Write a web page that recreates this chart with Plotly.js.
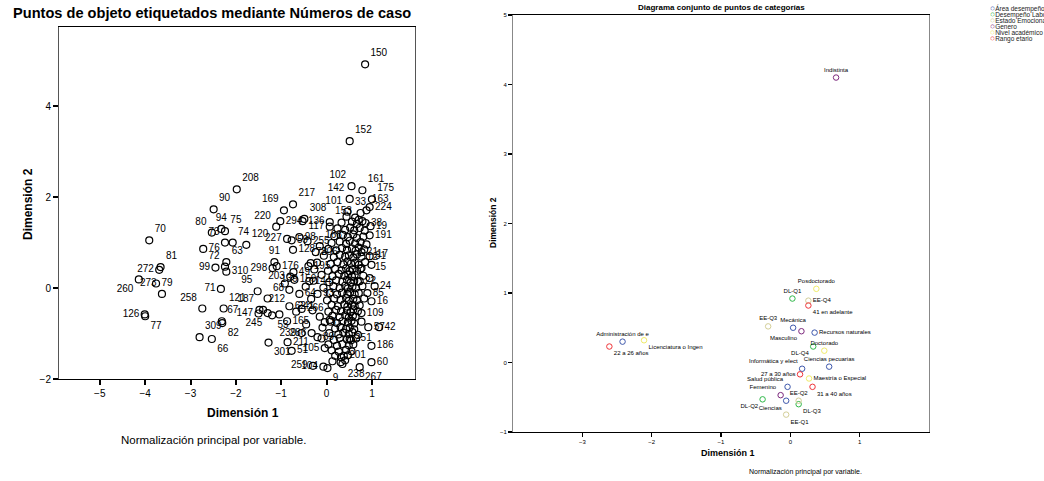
<!DOCTYPE html>
<html><head><meta charset="utf-8">
<script src="https://cdn.plot.ly/plotly-3.0.1.min.js"></script>
<style>html,body{margin:0;padding:0;background:#fff}#chart{width:1044px;height:481px}</style>
</head><body><div id="chart"></div>
<script>
// ---------- Left plot: object points labelled by case number ----------
const caseLabels = ['150','152','208','102','161','175','142','217','90','169','308','101','163','224','33',
 '80','94','75','220','294','136','153','38','19','70','73','74','120','227','59','98','255','117','191',
 '76','72','63','128','206','168','21','31','81','272','91','78','12','17','99','298','176','49','195',
 '203','159','144','310','15','24','22','273','79','71','95','139','64','93','85','16','260','258','121',
 '187','212','68','62','266','126','77','147','67','309','82','66','245','53','165','241','3','57','42',
 '109','239','286','89','251','301','211','51','105','186','201','60','259','104','9','238','267'];
const caseDim1 = [0.85,0.51,-1.98,0.55,0.79,1.00,0.51,-0.74,-2.49,-0.94,-0.49,0.46,0.88,0.95,0.75,
 -2.53,-2.32,-2.24,-1.11,-1.02,-0.53,0.07,0.86,0.97,-3.91,-2.24,-2.07,-1.77,-0.87,-0.77,-0.60,-0.42,0.07,0.95,
 -2.72,-2.24,-2.21,-0.74,-0.24,-0.15,0.77,0.95,-3.66,-3.69,-1.15,-0.35,0.77,0.99,-2.45,-1.19,-1.10,-0.73,-0.40,
 -0.80,-0.71,-0.38,-2.21,0.95,1.06,0.73,-3.63,-3.76,-2.33,-1.52,-0.82,-0.60,-0.20,0.90,0.99,-4.14,-2.74,-2.27,
 -1.48,-1.40,-1.30,-0.82,-0.55,-4.01,-4.00,-1.50,-2.31,-2.80,-2.30,-2.53,-1.30,-1.20,-0.87,-0.15,-0.04,0.92,1.16,
 0.77,-0.55,-0.33,-0.20,0.51,-1.28,-0.86,-0.77,-0.04,0.99,0.38,0.99,-0.30,-0.07,0.02,0.35,0.73];
const caseDim2 = [4.92,3.23,2.17,2.24,2.15,1.95,1.96,1.84,1.73,1.71,1.52,1.68,1.71,1.78,1.65,
 1.22,1.30,1.25,1.35,1.47,1.47,1.45,1.43,1.36,1.05,1.00,1.00,0.95,1.08,1.05,1.12,1.03,1.35,1.16,
 0.86,0.47,0.57,0.84,0.79,0.92,0.79,0.70,0.46,0.40,0.57,0.55,0.44,0.51,0.45,0.44,0.48,0.35,0.48,
 0.25,0.18,0.15,0.36,0.22,0.04,0.15,-0.13,0.10,-0.02,-0.07,-0.04,-0.13,-0.13,-0.11,-0.29,0.19,-0.45,-0.45,
 -0.48,-0.48,-0.23,-0.40,-0.46,-0.58,-0.62,-0.56,-0.73,-1.08,-0.77,-1.12,-0.55,-0.60,-0.73,-0.63,-0.75,-0.86,-0.86,
 -0.55,-0.99,-0.99,-1.08,-1.12,-1.20,-1.19,-1.38,-1.32,-1.27,-1.49,-1.63,-1.71,-1.73,-1.76,-1.67,-1.74];
// unlabelled (overplotted) object points in the dense cluster
const otherDim1 = [0.44,0.63,0.71,0.33,0.56,0.67,0.79,0.24,0.41,0.52,0.61,0.73,0.84,0.17,0.36,0.47,0.59,0.67,0.81,
 0.11,0.29,0.43,0.51,0.63,0.75,0.88,0.04,0.21,0.34,0.45,0.56,0.64,0.71,0.83,-0.06,0.16,0.29,0.41,0.49,0.59,0.67,0.77,
 -0.21,0.09,0.24,0.37,0.46,0.54,0.63,0.71,0.85,-0.27,0.03,0.19,0.33,0.43,0.51,0.57,0.67,0.75,
 -0.11,0.13,0.27,0.39,0.48,0.56,0.62,0.81,-0.29,0.06,0.21,0.35,0.45,0.53,0.61,0.69,
 -0.46,-0.07,0.15,0.29,0.41,0.47,0.57,0.65,0.79,0.07,0.23,0.34,0.46,0.52,0.62,0.71,
 -0.34,0.01,0.17,0.31,0.43,0.49,0.59,0.67,0.83,0.11,0.25,0.39,0.46,0.56,0.62,0.73,
 -0.31,0.04,0.21,0.32,0.45,0.53,0.59,0.69,0.13,0.29,0.41,0.49,0.58,0.64,
 0.09,0.23,0.35,0.47,0.55,0.61,0.77,-0.09,0.19,0.31,0.43,0.51,0.61,0.06,0.26,0.37,0.49,0.57,0.69,
 -0.11,0.16,0.29,0.45,0.54,0.65,0.04,0.23,0.35,0.49,0.59,0.11,0.27,0.43,0.55,0.19,0.32,0.47,0.13,0.31,0.41,
 -1.04,-0.67,0.07,-0.92,-0.45];
const otherDim2 = [1.57,1.55,1.50,1.44,1.46,1.41,1.47,1.31,1.28,1.33,1.27,1.32,1.26,1.14,1.17,1.12,1.18,1.10,1.13,
 0.99,1.02,0.97,1.04,0.98,1.01,0.96,0.86,0.83,0.88,0.84,0.87,0.82,0.89,0.85,0.71,0.68,0.73,0.69,0.72,0.67,0.74,0.69,
 0.56,0.53,0.57,0.52,0.58,0.54,0.56,0.51,0.57,0.41,0.38,0.42,0.39,0.43,0.37,0.41,0.38,0.42,
 0.29,0.26,0.31,0.27,0.30,0.25,0.29,0.27,0.16,0.13,0.17,0.14,0.18,0.12,0.16,0.14,
 0.03,0.01,0.04,0.00,0.05,-0.01,0.03,0.00,0.04,-0.11,-0.14,-0.10,-0.13,-0.09,-0.14,-0.11,
 -0.24,-0.27,-0.23,-0.26,-0.22,-0.28,-0.24,-0.27,-0.23,-0.37,-0.40,-0.36,-0.41,-0.37,-0.40,-0.38,
 -0.49,-0.52,-0.48,-0.51,-0.49,-0.53,-0.47,-0.51,-0.61,-0.64,-0.60,-0.65,-0.61,-0.63,
 -0.74,-0.77,-0.73,-0.76,-0.72,-0.78,-0.74,-0.87,-0.89,-0.86,-0.90,-0.87,-0.91,-0.99,-1.02,-0.98,-1.01,-0.97,-1.03,
 -1.11,-1.14,-1.10,-1.13,-1.15,-1.11,-1.24,-1.27,-1.23,-1.26,-1.24,-1.37,-1.40,-1.36,-1.39,-1.49,-1.52,-1.48,-1.61,-1.63,-1.59,
 -0.58,-0.52,-0.70,0.10,-0.80];
// label placement code per labelled case (TR = top right, ML = middle left, ...)
const caseLabelPos = ['TR','TR','TR','TL','TR','TR','TL','TR','TR','TL','TR','TL','TR','MR','TC',
 'TL','TC','TR','TL','MR','MR','TR','MR','MR','TR','TL','TR','TR','ML','MR','MR','MR','ML','MR',
 'MR','TL','TR','MR','MR','TR','MR','MR','TR','ML','TC','TR','TR','TR','ML','ML','MR','MR','MR',
 'ML','MR','MR','MR','TR','MR','MR','TL','MR','ML','TL','TC','MR','MR','MR','MR','BL','TL','TR',
 'TL','TR','TR','MR','MR','ML','BR','ML','TR','TR','BR','BR','BL','BR','MR','TL','MR','MR','MR',
 'MR','ML','ML','MR','MR','BR','MR','MR','ML','MR','MR','MR','ML','ML','BR','BR','BR'];
const xTicksLeft = [-5,-4,-3,-2,-1,0,1];
const yTicksLeft = [-2,0,2,4];

// ---------- Right plot: joint plot of category points ----------
const variables = ['Área desempeño','Desempeño Laboral','Estado Emocional','Genero','Nivel académico','Rango etario'];
const areaCats = ['Administración de e','Mecánica','Recursos naturales','Informática y elect','Ciencias pecuarias','Salud pública','Ciencias'];
const areaDim1 = [-2.42,0.04,0.35,0.17,0.56,-0.04,-0.06];
const areaDim2 = [0.30,0.50,0.43,-0.09,-0.06,-0.35,-0.55];
const dlCats = ['DL-Q1','DL-Q2','DL-Q3','DL-Q4'];
const dlDim1 = [0.03,-0.40,0.12,0.33];
const dlDim2 = [0.92,-0.53,-0.60,0.23];
const eeCats = ['EE-Q1','EE-Q2','EE-Q3','EE-Q4'];
const eeDim1 = [-0.06,0.12,-0.32,0.26];
const eeDim2 = [-0.75,-0.55,0.52,0.89];
const genCats = ['Masculino','Femenino','Indistinta'];
const genDim1 = [0.16,-0.14,0.66];
const genDim2 = [0.45,-0.47,4.10];
const nivCats = ['Licenciatura o Ingen','Maestría o Especial','Doctorado','Posdoctorado'];
const nivDim1 = [-2.11,0.27,0.49,0.375];
const nivDim2 = [0.32,-0.23,0.17,1.06];
const edadCats = ['22 a 26 años','27 a 30 años','31 a 40 años','41 en adelante'];
const edadDim1 = [-2.61,0.14,0.32,0.26];
const edadDim2 = [0.23,-0.17,-0.35,0.82];
const xTicksRight = [-3,-2,-1,0,1];
const yTicksRight = [-1,0,1,2,3,4,5];

// ---------- styles ----------
const FONT = 'Liberation Sans, Arial, sans-serif';
const posMap = {TR:'top right',TL:'top left',TC:'top center',MR:'middle right',ML:'middle left',
  BR:'bottom right',BL:'bottom left',BC:'bottom center'};
const varColors = ['#3E58AC','#2EB848','#D3CE97','#7C287D','#F0EC6A','#EF3338'];
const rightSets = [
  [areaCats,areaDim1,areaDim2,['TC','TC','MR','TL','TC','TL','BL']],
  [dlCats,dlDim1,dlDim2,['TC','BL','BR','BL']],
  [eeCats,eeDim1,eeDim2,['BR','TC','TC','MR']],
  [genCats,genDim1,genDim2,['BL','TL','TC']],
  [nivCats,nivDim1,nivDim2,['BR','MR','TC','TC']],
  [edadCats,edadDim1,edadDim2,['BR','ML','BR','BR']]
];

const traces = [];
traces.push({type:'scatter',mode:'markers',x:otherDim1,y:otherDim2,xaxis:'x',yaxis:'y',
  marker:{symbol:'circle-open',size:7,color:'#000',line:{width:1.2}},hoverinfo:'skip',showlegend:false});
traces.push({type:'scatter',mode:'markers+text',x:caseDim1,y:caseDim2,text:caseLabels,
  textposition:caseLabelPos.map(p=>posMap[p]),xaxis:'x',yaxis:'y',cliponaxis:false,
  textfont:{family:FONT,size:10,color:'#000'},
  marker:{symbol:'circle-open',size:7,color:'#000',line:{width:1.2}},showlegend:false});
rightSets.forEach((s,i)=>{
  traces.push({type:'scatter',mode:'markers+text',name:variables[i],x:s[1],y:s[2],text:s[0],
    textposition:s[3].map(p=>posMap[p]),xaxis:'x2',yaxis:'y2',cliponaxis:false,
    textfont:{family:FONT,size:6,color:'#000'},
    marker:{symbol:'circle-open',size:5.5,color:varColors[i],line:{width:1}},showlegend:false});
});

const W=1044,H=481;
const px = v=>v/W, py = v=>1-v/H;
const axBase = {showgrid:false,zeroline:false,showline:true,mirror:true,ticks:'outside',
  tickcolor:'#000',linecolor:'#000',linewidth:1};
const annotations = [
  {text:'Puntos de objeto etiquetados mediante Números de caso',x:px(212),y:py(13),font:{family:FONT,size:14.6,weight:'bold',color:'#000'}},
  {text:'Dimensión 2',x:px(28),y:py(204),textangle:-90,font:{family:FONT,size:12,weight:'bold',color:'#000'}},
  {text:'Dimensión 1',x:px(243),y:py(413),font:{family:FONT,size:12,weight:'bold',color:'#000'}},
  {text:'Normalización principal por variable.',x:px(213),y:py(440),font:{family:FONT,size:11.5,color:'#000'}},
  {text:'Diagrama conjunto de puntos de categorías',x:px(721),y:py(7),font:{family:FONT,size:8,weight:'bold',color:'#000'}},
  {text:'Dimensión 2',x:px(493),y:py(223),textangle:-90,font:{family:FONT,size:8.5,weight:'bold',color:'#000'}},
  {text:'Dimensión 1',x:px(728),y:py(453),font:{family:FONT,size:9,weight:'bold',color:'#000'}},
  {text:'Normalización principal por variable.',x:px(805),y:py(472),font:{family:FONT,size:7,color:'#000'}}
].map(a=>Object.assign({xref:'paper',yref:'paper',showarrow:false,xanchor:'center',yanchor:'middle'},a));
variables.forEach((v,i)=>{
  annotations.push({xref:'paper',yref:'paper',showarrow:false,xanchor:'left',yanchor:'middle',
    x:px(988),y:py(7.5+i*6),
    text:'<span style="color:'+varColors[i]+';font-size:8.5px">○</span>'+v,
    font:{family:FONT,size:6.5,color:'#222'}});
});

const layout = {
  width:W,height:H,margin:{l:0,r:0,t:0,b:0},paper_bgcolor:'#fff',plot_bgcolor:'#fff',
  showlegend:false,
  xaxis:Object.assign({},axBase,{domain:[px(59),px(415)],range:[-5.9,1.95],tickvals:xTicksLeft,
    ticklen:5,tickwidth:2,tickfont:{family:FONT,size:10,color:'#000'},anchor:'y'}),
  yaxis:Object.assign({},axBase,{domain:[py(379),py(27)],range:[-2,5.74],tickvals:yTicksLeft,
    ticklen:5,tickwidth:2,linecolor:'#555',tickfont:{family:FONT,size:10,color:'#000'},anchor:'x'}),
  xaxis2:Object.assign({},axBase,{domain:[px(513),px(929)],range:[-4,2],tickvals:xTicksRight,
    ticklen:4,tickwidth:1.5,tickfont:{family:FONT,size:6,color:'#000'},anchor:'y2'}),
  yaxis2:Object.assign({},axBase,{domain:[py(432),py(15)],range:[-1,5],tickvals:yTicksRight,
    ticklen:4,tickwidth:1.5,linecolor:'#888',tickfont:{family:FONT,size:6,color:'#000'},anchor:'x2'}),
  annotations:annotations
};
Plotly.newPlot('chart',traces,layout,{displayModeBar:false,staticPlot:true});
</script></body></html>
